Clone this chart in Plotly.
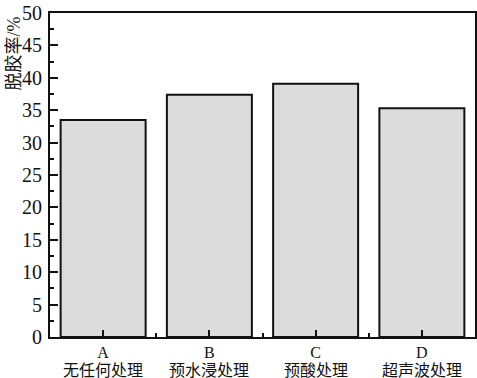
import plotly.graph_objects as go

categories = ["A", "B", "C", "D"]
treatments = ["无任何处理", "预水浸处理", "预酸处理", "超声波处理"]
values = [33.5, 37.4, 39.1, 35.3]
y_ticks = [0, 5, 10, 15, 20, 25, 30, 35, 40, 45, 50]

xpos = list(range(len(categories)))

fig = go.Figure()
fig.add_trace(go.Bar(
    x=xpos, y=values, width=0.8,
    marker=dict(color="#dcdcdc", line=dict(color="#111111", width=2)),
))

serif = "Liberation Serif, Times New Roman, serif"
cjk = "Liberation Serif, Noto Sans CJK SC, serif"

fig.update_layout(
    width=477, height=378,
    margin=dict(l=50, r=0, t=13, b=41),
    plot_bgcolor="white", paper_bgcolor="white",
    showlegend=False,
    bargap=0.2,
    font=dict(family=serif, color="#111111", size=18),
)
fig.update_xaxes(
    range=[-0.5, 3.5],
    tickmode="array", tickvals=xpos, ticktext=categories,
    ticks="inside", ticklen=7, tickwidth=2, tickcolor="#111111",
    minor=dict(tickmode="array", tickvals=[0.5, 1.5, 2.5], ticks="inside",
               ticklen=4, tickwidth=2, tickcolor="#111111"),
    showline=True, linecolor="#111111", linewidth=2, mirror=True,
    showgrid=False, zeroline=False,
    tickfont=dict(family=serif, size=16),
    ticklabelstandoff=0,
)
fig.update_yaxes(
    range=[0, 50],
    tickmode="array", tickvals=y_ticks,
    ticks="inside", ticklen=8, tickwidth=2, tickcolor="#111111",
    minor=dict(tickmode="linear", tick0=2.5, dtick=5, ticks="inside",
               ticklen=4, tickwidth=2, tickcolor="#111111"),
    showline=True, linecolor="#111111", linewidth=2, mirror=True,
    showgrid=False, zeroline=False,
    tickfont=dict(family=serif, size=20),
    ticklabelstandoff=2,
)

for x, t in zip(xpos, treatments):
    fig.add_annotation(x=x, y=0, xref="x", yref="paper", yshift=-33,
                       text=t, showarrow=False, yanchor="middle",
                       font=dict(family=cjk, size=16, color="#111111"))

fig.add_annotation(x=-0.087, y=0.875, xref="paper", yref="paper",
                   xanchor="center", yanchor="middle",
                   text="脱胶率/%", textangle=-90, showarrow=False,
                   font=dict(family=cjk, size=18, color="#111111"))

fig.write_html("out.html")
